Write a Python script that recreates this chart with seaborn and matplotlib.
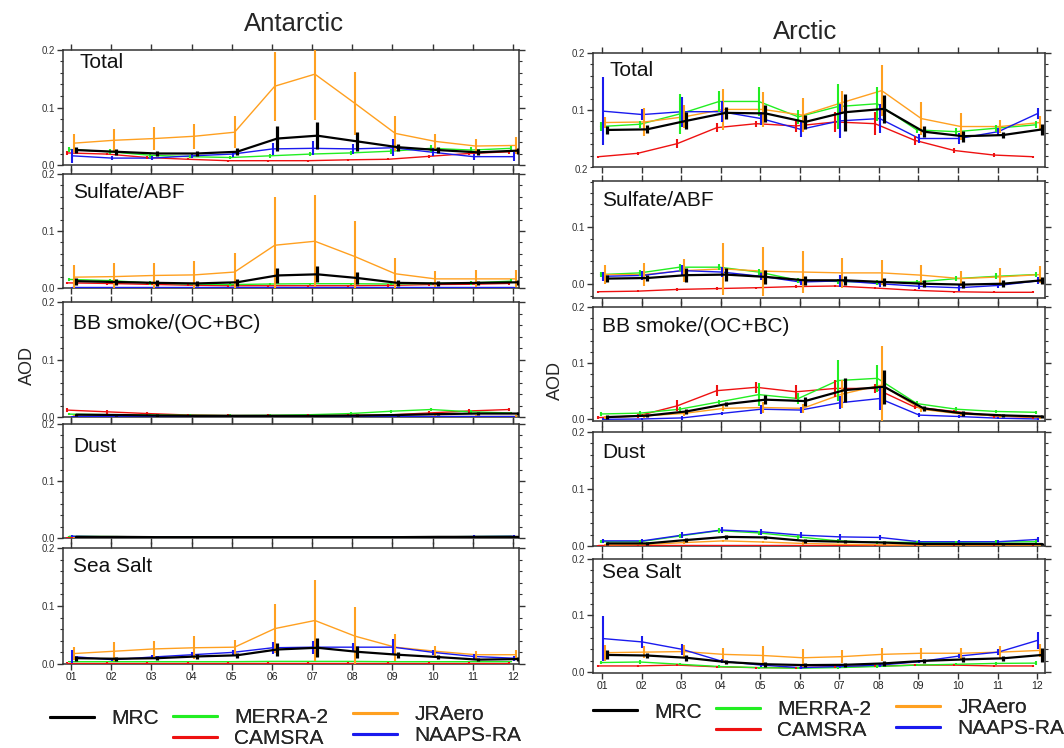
import numpy as np
import pandas as pd
import matplotlib
matplotlib.use("Agg")
import matplotlib.pyplot as plt
from matplotlib.lines import Line2D
from matplotlib import font_manager
import seaborn as sns

# ---------------------------------------------------------------- data
MONTHS = ["01", "02", "03", "04", "05", "06", "07", "08", "09", "10", "11", "12"]
MODELS = ["CAMSRA", "MERRA-2", "JRAero", "NAAPS-RA", "MRC"]
SPECIES = ["Total", "Sulfate/ABF", "BB smoke/(OC+BC)", "Dust", "Sea Salt"]

# Antarctic monthly mean AOD and spread
ANT_TOTAL = {
    "MRC":      [0.026, 0.023, 0.020, 0.020, 0.023, 0.046, 0.051, 0.041, 0.031, 0.026, 0.022, 0.025],
    "MERRA-2":  [0.027, 0.023, 0.017, 0.0145, 0.013, 0.016, 0.019, 0.021, 0.024, 0.029, 0.026, 0.029],
    "CAMSRA":   [0.021, 0.019, 0.013, 0.010, 0.0075, 0.0075, 0.0075, 0.009, 0.010, 0.015, 0.020, 0.023],
    "JRAero":   [0.038, 0.043, 0.046, 0.050, 0.057, 0.137, 0.158, 0.107, 0.055, 0.041, 0.033, 0.034],
    "NAAPS-RA": [0.016, 0.012, 0.012, 0.016, 0.019, 0.028, 0.029, 0.028, 0.030, 0.022, 0.0145, 0.0145],
}
ANT_TOTAL_ERR = {
    "MRC":      [0.005, 0.005, 0.005, 0.005, 0.006, 0.021, 0.023, 0.016, 0.006, 0.005, 0.005, 0.005],
    "MERRA-2":  [0.004, 0.004, 0.004, 0.003, 0.003, 0.004, 0.004, 0.004, 0.004, 0.006, 0.005, 0.004],
    "CAMSRA":   [0.003, 0.002, 0.002, 0.002, 0.002, 0.002, 0.002, 0.002, 0.002, 0.002, 0.003, 0.003],
    "JRAero":   [0.016, 0.020, 0.020, 0.022, 0.028, 0.060, 0.080, 0.055, 0.030, 0.013, 0.012, 0.015],
    "NAAPS-RA": [0.012, 0.004, 0.004, 0.004, 0.005, 0.010, 0.012, 0.008, 0.015, 0.007, 0.005, 0.008],
}

ANT_SULFATE = {
    "MRC":      [0.012, 0.0105, 0.009, 0.008, 0.010, 0.022, 0.024, 0.0175, 0.009, 0.008, 0.009, 0.010],
    "MERRA-2":  [0.015, 0.013, 0.009, 0.007, 0.006, 0.007, 0.0075, 0.0075, 0.007, 0.008, 0.009, 0.012],
    "CAMSRA":   [0.009, 0.008, 0.0065, 0.005, 0.004, 0.004, 0.004, 0.004, 0.0045, 0.006, 0.0065, 0.008],
    "JRAero":   [0.019, 0.020, 0.022, 0.023, 0.028, 0.075, 0.082, 0.055, 0.025, 0.016, 0.016, 0.016],
    "NAAPS-RA": [0.001, 0.001, 0.001, 0.001, 0.001, 0.001, 0.001, 0.001, 0.001, 0.001, 0.001, 0.001],
}
ANT_SULFATE_ERR = {
    "MRC":      [0.006, 0.006, 0.005, 0.005, 0.006, 0.013, 0.014, 0.010, 0.005, 0.004, 0.004, 0.004],
    "MERRA-2":  [0.003, 0.003, 0.003, 0.002, 0.002, 0.002, 0.002, 0.002, 0.002, 0.002, 0.003, 0.003],
    "CAMSRA":   [0.002, 0.002, 0.002, 0.002, 0.002, 0.002, 0.002, 0.002, 0.002, 0.002, 0.002, 0.002],
    "JRAero":   [0.022, 0.024, 0.022, 0.025, 0.033, 0.084, 0.081, 0.063, 0.027, 0.014, 0.015, 0.015],
    "NAAPS-RA": [0.001, 0.001, 0.001, 0.001, 0.001, 0.001, 0.001, 0.001, 0.001, 0.001, 0.001, 0.001],
}

ANT_BB = {
    "MRC":      [0.004, 0.0035, 0.0025, 0.002, 0.002, 0.002, 0.002, 0.0025, 0.0035, 0.005, 0.006, 0.006],
    "MERRA-2":  [0.005, 0.004, 0.0035, 0.003, 0.0025, 0.003, 0.004, 0.006, 0.010, 0.013, 0.009, 0.007],
    "CAMSRA":   [0.012, 0.009, 0.006, 0.0035, 0.0025, 0.0025, 0.0025, 0.003, 0.0035, 0.007, 0.0105, 0.013],
    "JRAero":   [0.002, 0.002, 0.002, 0.002, 0.002, 0.002, 0.002, 0.002, 0.002, 0.002, 0.002, 0.002],
    "NAAPS-RA": [0.001, 0.001, 0.001, 0.001, 0.001, 0.001, 0.001, 0.001, 0.001, 0.001, 0.001, 0.001],
}
ANT_BB_ERR = {
    "MRC":      [0.002, 0.002, 0.002, 0.002, 0.002, 0.002, 0.002, 0.002, 0.002, 0.002, 0.002, 0.002],
    "MERRA-2":  [0.002, 0.002, 0.002, 0.002, 0.002, 0.002, 0.002, 0.002, 0.003, 0.003, 0.003, 0.002],
    "CAMSRA":   [0.004, 0.003, 0.002, 0.002, 0.002, 0.002, 0.002, 0.002, 0.002, 0.003, 0.003, 0.003],
    "JRAero":   [0.001, 0.001, 0.001, 0.001, 0.001, 0.001, 0.001, 0.001, 0.001, 0.001, 0.001, 0.001],
    "NAAPS-RA": [0.001, 0.001, 0.001, 0.001, 0.001, 0.001, 0.001, 0.001, 0.001, 0.001, 0.001, 0.001],
}

ANT_DUST = {
    "MRC":      [0.002, 0.002, 0.0015, 0.0015, 0.0015, 0.0015, 0.0015, 0.0015, 0.0015, 0.002, 0.002, 0.002],
    "MERRA-2":  [0.003, 0.0025, 0.002, 0.002, 0.0015, 0.0015, 0.0015, 0.0015, 0.002, 0.002, 0.0025, 0.003],
    "CAMSRA":   [0.001, 0.001, 0.001, 0.001, 0.001, 0.001, 0.001, 0.001, 0.001, 0.001, 0.001, 0.001],
    "JRAero":   [0.001, 0.001, 0.001, 0.001, 0.001, 0.001, 0.001, 0.001, 0.001, 0.001, 0.001, 0.001],
    "NAAPS-RA": [0.003, 0.002, 0.0015, 0.001, 0.001, 0.001, 0.001, 0.001, 0.0015, 0.002, 0.0025, 0.003],
}
ANT_DUST_ERR = {
    "MRC":      [0.002, 0.002, 0.001, 0.001, 0.001, 0.001, 0.001, 0.001, 0.001, 0.001, 0.002, 0.002],
    "MERRA-2":  [0.001, 0.001, 0.001, 0.001, 0.001, 0.001, 0.001, 0.001, 0.001, 0.001, 0.001, 0.001],
    "CAMSRA":   [0.001, 0.001, 0.001, 0.001, 0.001, 0.001, 0.001, 0.001, 0.001, 0.001, 0.001, 0.001],
    "JRAero":   [0.001, 0.001, 0.001, 0.001, 0.001, 0.001, 0.001, 0.001, 0.001, 0.001, 0.001, 0.001],
    "NAAPS-RA": [0.002, 0.002, 0.002, 0.002, 0.002, 0.002, 0.002, 0.002, 0.002, 0.002, 0.002, 0.002],
}

ANT_SEASALT = {
    "MRC":      [0.010, 0.009, 0.010, 0.013, 0.015, 0.025, 0.028, 0.021, 0.016, 0.012, 0.0075, 0.0085],
    "MERRA-2":  [0.004, 0.004, 0.004, 0.004, 0.004, 0.0045, 0.0045, 0.0045, 0.004, 0.004, 0.004, 0.004],
    "CAMSRA":   [0.002, 0.002, 0.002, 0.002, 0.002, 0.002, 0.002, 0.002, 0.002, 0.002, 0.002, 0.002],
    "JRAero":   [0.018, 0.022, 0.026, 0.028, 0.029, 0.061, 0.075, 0.048, 0.029, 0.022, 0.016, 0.016],
    "NAAPS-RA": [0.013, 0.0075, 0.012, 0.016, 0.020, 0.028, 0.029, 0.029, 0.029, 0.020, 0.013, 0.010],
}
ANT_SEASALT_ERR = {
    "MRC":      [0.004, 0.003, 0.003, 0.004, 0.004, 0.012, 0.016, 0.010, 0.005, 0.004, 0.003, 0.004],
    "MERRA-2":  [0.001, 0.001, 0.001, 0.001, 0.001, 0.001, 0.001, 0.001, 0.001, 0.001, 0.001, 0.001],
    "CAMSRA":   [0.001, 0.001, 0.001, 0.001, 0.001, 0.001, 0.001, 0.001, 0.001, 0.001, 0.001, 0.001],
    "JRAero":   [0.011, 0.016, 0.014, 0.020, 0.012, 0.042, 0.070, 0.051, 0.023, 0.009, 0.007, 0.009],
    "NAAPS-RA": [0.012, 0.003, 0.004, 0.004, 0.005, 0.010, 0.011, 0.008, 0.014, 0.005, 0.004, 0.004],
}

# Arctic monthly mean AOD and spread
ARC_TOTAL = {
    "MRC":      [0.065, 0.066, 0.081, 0.095, 0.094, 0.079, 0.096, 0.102, 0.062, 0.054, 0.056, 0.066],
    "MERRA-2":  [0.071, 0.075, 0.093, 0.115, 0.115, 0.088, 0.106, 0.111, 0.065, 0.062, 0.068, 0.074],
    "CAMSRA":   [0.018, 0.024, 0.041, 0.069, 0.076, 0.072, 0.079, 0.076, 0.047, 0.029, 0.021, 0.018],
    "JRAero":   [0.078, 0.079, 0.088, 0.101, 0.101, 0.091, 0.113, 0.134, 0.085, 0.071, 0.071, 0.078],
    "NAAPS-RA": [0.098, 0.092, 0.097, 0.097, 0.085, 0.066, 0.081, 0.085, 0.050, 0.050, 0.062, 0.094],
}
ARC_TOTAL_ERR = {
    "MRC":      [0.007, 0.007, 0.015, 0.010, 0.015, 0.012, 0.032, 0.024, 0.010, 0.010, 0.005, 0.010],
    "MERRA-2":  [0.008, 0.006, 0.035, 0.018, 0.025, 0.012, 0.040, 0.030, 0.006, 0.006, 0.006, 0.006],
    "CAMSRA":   [0.002, 0.003, 0.008, 0.008, 0.005, 0.010, 0.018, 0.020, 0.008, 0.004, 0.003, 0.002],
    "JRAero":   [0.010, 0.025, 0.020, 0.036, 0.031, 0.030, 0.020, 0.045, 0.029, 0.023, 0.012, 0.012],
    "NAAPS-RA": [0.060, 0.010, 0.026, 0.018, 0.012, 0.014, 0.030, 0.025, 0.008, 0.010, 0.006, 0.010],
}

ARC_SULFATE = {
    "MRC":      [0.010, 0.011, 0.016, 0.017, 0.013, 0.007, 0.007, 0.004, 0.001, -0.0005, 0.001, 0.007],
    "MERRA-2":  [0.017, 0.020, 0.030, 0.030, 0.0215, 0.007, 0.005, 0.0035, 0.004, 0.010, 0.014, 0.017],
    "CAMSRA":   [-0.013, -0.012, -0.009, -0.0075, -0.006, -0.004, -0.003, -0.0065, -0.0105, -0.013, -0.014, -0.014],
    "JRAero":   [0.017, 0.017, 0.024, 0.027, 0.023, 0.0215, 0.020, 0.020, 0.016, 0.010, 0.013, 0.017],
    "NAAPS-RA": [0.014, 0.0155, 0.024, 0.0215, 0.014, 0.004, 0.006, 0.001, -0.0035, -0.006, -0.002, 0.006],
}
ARC_SULFATE_ERR = {
    "MRC":      [0.006, 0.006, 0.012, 0.012, 0.012, 0.008, 0.008, 0.007, 0.006, 0.006, 0.006, 0.006],
    "MERRA-2":  [0.004, 0.005, 0.006, 0.005, 0.005, 0.004, 0.004, 0.004, 0.004, 0.004, 0.005, 0.005],
    "CAMSRA":   [0.002, 0.002, 0.002, 0.002, 0.002, 0.002, 0.002, 0.002, 0.002, 0.002, 0.002, 0.002],
    "JRAero":   [0.016, 0.020, 0.020, 0.045, 0.043, 0.036, 0.026, 0.022, 0.018, 0.013, 0.015, 0.015],
    "NAAPS-RA": [0.008, 0.008, 0.010, 0.008, 0.006, 0.006, 0.010, 0.005, 0.005, 0.005, 0.005, 0.006],
}

ARC_BB = {
    "MRC":      [0.004, 0.0065, 0.014, 0.027, 0.035, 0.0325, 0.052, 0.058, 0.0195, 0.0105, 0.007, 0.005],
    "MERRA-2":  [0.0095, 0.011, 0.018, 0.031, 0.044, 0.037, 0.069, 0.073, 0.028, 0.018, 0.014, 0.0125],
    "CAMSRA":   [0.003, 0.006, 0.024, 0.051, 0.057, 0.049, 0.055, 0.055, 0.022, 0.014, 0.006, 0.0035],
    "JRAero":   [0.0035, 0.006, 0.0105, 0.0195, 0.021, 0.0195, 0.045, 0.061, 0.018, 0.0095, 0.006, 0.0035],
    "NAAPS-RA": [0.0, 0.0006, 0.0025, 0.0105, 0.018, 0.0165, 0.0295, 0.037, 0.0075, 0.005, 0.002, 0.0006],
}
ARC_BB_ERR = {
    "MRC":      [0.003, 0.003, 0.004, 0.004, 0.008, 0.008, 0.022, 0.030, 0.005, 0.004, 0.003, 0.003],
    "MERRA-2":  [0.003, 0.003, 0.004, 0.004, 0.020, 0.010, 0.036, 0.024, 0.005, 0.004, 0.003, 0.003],
    "CAMSRA":   [0.003, 0.003, 0.010, 0.010, 0.010, 0.012, 0.015, 0.008, 0.004, 0.003, 0.003, 0.003],
    "JRAero":   [0.003, 0.003, 0.004, 0.004, 0.010, 0.008, 0.025, 0.070, 0.005, 0.004, 0.003, 0.003],
    "NAAPS-RA": [0.002, 0.002, 0.003, 0.003, 0.008, 0.006, 0.012, 0.020, 0.004, 0.003, 0.002, 0.002],
}

ARC_DUST = {
    "MRC":      [0.0045, 0.0045, 0.0105, 0.016, 0.015, 0.009, 0.0075, 0.006, 0.0035, 0.0035, 0.0035, 0.0035],
    "MERRA-2":  [0.0075, 0.0075, 0.0175, 0.027, 0.023, 0.016, 0.009, 0.0065, 0.0065, 0.0065, 0.007, 0.0075],
    "CAMSRA":   [0.001, 0.001, 0.001, 0.001, 0.001, 0.001, 0.001, 0.001, 0.001, 0.001, 0.001, 0.001],
    "JRAero":   [0.002, 0.0025, 0.006, 0.009, 0.007, 0.0045, 0.003, 0.002, 0.0015, 0.0015, 0.0015, 0.0015],
    "NAAPS-RA": [0.009, 0.009, 0.019, 0.028, 0.025, 0.019, 0.016, 0.015, 0.0075, 0.0075, 0.0075, 0.0115],
}
ARC_DUST_ERR = {
    "MRC":      [0.002, 0.002, 0.003, 0.003, 0.003, 0.003, 0.003, 0.002, 0.002, 0.002, 0.002, 0.002],
    "MERRA-2":  [0.003, 0.003, 0.004, 0.004, 0.004, 0.004, 0.003, 0.003, 0.003, 0.003, 0.003, 0.003],
    "CAMSRA":   [0.001, 0.001, 0.001, 0.001, 0.001, 0.001, 0.001, 0.001, 0.001, 0.001, 0.001, 0.001],
    "JRAero":   [0.001, 0.001, 0.002, 0.002, 0.002, 0.002, 0.001, 0.001, 0.001, 0.001, 0.001, 0.001],
    "NAAPS-RA": [0.003, 0.003, 0.005, 0.006, 0.005, 0.005, 0.005, 0.004, 0.003, 0.003, 0.003, 0.004],
}

ARC_SEASALT = {
    "MRC":      [0.030, 0.029, 0.025, 0.0175, 0.0135, 0.012, 0.0125, 0.015, 0.0195, 0.022, 0.024, 0.030],
    "MERRA-2":  [0.0165, 0.0175, 0.0135, 0.0095, 0.0075, 0.0065, 0.0075, 0.0095, 0.012, 0.0135, 0.015, 0.0155],
    "CAMSRA":   [0.0105, 0.0105, 0.012, 0.009, 0.0075, 0.0075, 0.009, 0.010, 0.012, 0.012, 0.0105, 0.0105],
    "JRAero":   [0.034, 0.035, 0.036, 0.031, 0.029, 0.025, 0.027, 0.031, 0.033, 0.033, 0.035, 0.038],
    "NAAPS-RA": [0.059, 0.053, 0.040, 0.019, 0.012, 0.0075, 0.0095, 0.012, 0.018, 0.028, 0.035, 0.056],
}
ARC_SEASALT_ERR = {
    "MRC":      [0.008, 0.005, 0.005, 0.004, 0.004, 0.004, 0.004, 0.004, 0.004, 0.004, 0.005, 0.012],
    "MERRA-2":  [0.003, 0.003, 0.002, 0.002, 0.002, 0.002, 0.002, 0.002, 0.002, 0.002, 0.002, 0.003],
    "CAMSRA":   [0.002, 0.002, 0.002, 0.002, 0.002, 0.002, 0.002, 0.002, 0.002, 0.002, 0.002, 0.002],
    "JRAero":   [0.014, 0.010, 0.012, 0.012, 0.016, 0.016, 0.012, 0.012, 0.010, 0.010, 0.010, 0.012],
    "NAAPS-RA": [0.040, 0.010, 0.010, 0.004, 0.003, 0.003, 0.003, 0.003, 0.003, 0.004, 0.005, 0.015],
}

ANT_PANELS = [(ANT_TOTAL, ANT_TOTAL_ERR), (ANT_SULFATE, ANT_SULFATE_ERR), (ANT_BB, ANT_BB_ERR),
              (ANT_DUST, ANT_DUST_ERR), (ANT_SEASALT, ANT_SEASALT_ERR)]
ARC_PANELS = [(ARC_TOTAL, ARC_TOTAL_ERR), (ARC_SULFATE, ARC_SULFATE_ERR), (ARC_BB, ARC_BB_ERR),
              (ARC_DUST, ARC_DUST_ERR), (ARC_SEASALT, ARC_SEASALT_ERR)]

# ---------------------------------------------------------------- style
COLORS = {"MRC": "#000000", "MERRA-2": "#22ee22", "CAMSRA": "#ee1111",
          "JRAero": "#ffa020", "NAAPS-RA": "#1a1aee"}
SHIFT = {"CAMSRA": -0.10, "MERRA-2": -0.04, "NAAPS-RA": 0.02, "JRAero": 0.07, "MRC": 0.13}
LINE_W = {"MRC": 1.6, "MERRA-2": 1.0, "CAMSRA": 1.0, "JRAero": 1.0, "NAAPS-RA": 1.0}
BAR_W = {"MRC": 2.3, "MERRA-2": 1.5, "CAMSRA": 1.5, "JRAero": 1.5, "NAAPS-RA": 1.5}

sns.set_theme(style="ticks")


def first_font(names):
    for n in names:
        try:
            font_manager.findfont(n, fallback_to_default=False)
            return n
        except Exception:
            continue
    return "DejaVu Sans"


BASE_FONT = first_font(["Liberation Sans", "Arial", "DejaVu Sans"])
plt.rcParams["font.family"] = [BASE_FONT, "DejaVu Sans"]

W, H = 1064, 748
fig = plt.figure(figsize=(W / 100, H / 100), dpi=100)


def px_axes(x0, x1, y0, y1):
    return fig.add_axes([x0 / W, 1 - y1 / H, (x1 - x0) / W, (y1 - y0) / H])


ANT_X = (63, 519)
ARC_X = (593, 1045)
ANT_ROWS = [(50, 165), (174, 288), (302, 417), (424, 538), (548, 664)]
ARC_ROWS = [(53, 167), (181, 298), (307, 421), (432, 546), (559, 673)]
ARC_YLIMS = [(0.0, 0.2), (-0.024, 0.181), (-0.003, 0.2), (0.0, 0.2), (-0.002, 0.2)]
ARC_YTICKS = [[0.1, 0.2], [0.0, 0.1], [0.0, 0.1, 0.2], [0.0, 0.1, 0.2], [0.0, 0.1, 0.2]]
# panel-label placement (px from left frame, px from top frame to text centre)
ANT_LABEL_POS = [(17, 12), (10, 19), (10, 21), (10, 22), (10, 18)]
ARC_LABEL_POS = [(17, 18), (9, 19), (9, 20), (9, 20), (9, 13)]


def draw_panel(ax, means, errs, label, xlim, ylim, yticks, last, label_pos, size_px):
    x = np.arange(1, 13)
    for m in MODELS:
        xs = x + SHIFT[m]
        df = pd.DataFrame({"month": xs, "aod": means[m]})
        sns.lineplot(data=df, x="month", y="aod", color=COLORS[m], lw=LINE_W[m],
                     ax=ax, legend=False, zorder=3 if m != "MRC" else 5)
        ax.errorbar(xs, means[m], yerr=errs[m], fmt="none", ecolor=COLORS[m],
                    elinewidth=BAR_W[m], capsize=0, zorder=4 if m != "MRC" else 6)
    ax.set_xticks(x)
    ax.set_xticklabels(MONTHS if last else [])
    ax.set_yticks(yticks)
    ax.set_yticklabels([f"{v:.1f}" for v in yticks])
    ax.yaxis.set_minor_locator(matplotlib.ticker.MultipleLocator(0.02))
    # limits last, so tick setting cannot widen them
    ax.set_xlim(*xlim)
    ax.set_ylim(*ylim)
    ax.set_xlabel("")
    ax.set_ylabel("")
    ax.tick_params(axis="x", which="major", top=True, bottom=True, direction="out",
                   length=4, width=1.0, color="#333333", labelsize=7.5,
                   labelcolor="#222222", pad=2)
    ax.tick_params(axis="y", which="major", left=True, right=True, direction="out",
                   length=4, width=1.0, color="#333333", labelsize=7,
                   labelcolor="#333333", pad=2)
    ax.tick_params(axis="y", which="minor", left=True, right=True, direction="out",
                   length=2.5, width=0.8, color="#333333")
    for s in ax.spines.values():
        s.set_visible(True)
        s.set_color("#333333")
        s.set_linewidth(1.1)
    dx, dy = label_pos
    w, h = size_px
    ax.text(dx / w, 1 - dy / h, label, transform=ax.transAxes, ha="left", va="center",
            fontsize=15, color="#111111")


# Antarctic column
ant_axes = []
for i, ((mean, err), (t, b)) in enumerate(zip(ANT_PANELS, ANT_ROWS)):
    ax = px_axes(ANT_X[0], ANT_X[1], t, b)
    draw_panel(ax, mean, err, SPECIES[i], (0.80, 12.15), (0.0, 0.2), [0.0, 0.1, 0.2],
               i == 4, ANT_LABEL_POS[i], (ANT_X[1] - ANT_X[0], b - t))
    ant_axes.append(ax)

# Arctic column
arc_axes = []
for i, ((mean, err), (t, b)) in enumerate(zip(ARC_PANELS, ARC_ROWS)):
    ax = px_axes(ARC_X[0], ARC_X[1], t, b)
    draw_panel(ax, mean, err, SPECIES[i], (0.77, 12.2), ARC_YLIMS[i], ARC_YTICKS[i],
               i == 4, ARC_LABEL_POS[i], (ARC_X[1] - ARC_X[0], b - t))
    arc_axes.append(ax)

# the sulfate panel's 0.2 label sits above its frame
arc_axes[1].text(-0.012, 0.2, "0.2", transform=arc_axes[1].get_yaxis_transform(),
                 ha="right", va="center", fontsize=7, color="#333333", clip_on=False)

fig.text(294 / W, 1 - 24 / H, "Antarctic", ha="center", va="center", fontsize=18.5)
fig.text(805 / W, 1 - 32 / H, "Arctic", ha="center", va="center", fontsize=18.5)
fig.text(27 / W, 1 - 365 / H, "AOD", ha="center", va="center", rotation=90, fontsize=13)
fig.text(555 / W, 1 - 380 / H, "AOD", ha="center", va="center", rotation=90, fontsize=13)


# Legends: MRC alone, then two stacked columns of the reanalyses
def handle(m):
    return Line2D([], [], color=COLORS[m], lw=2.2)


leg_kw = dict(frameon=False, handlelength=2.1, handletextpad=0.85, fontsize=15,
              borderaxespad=0, borderpad=0, labelspacing=0.1, loc="center left")
LEGEND_SLOTS = [
    # (x of handle, y centre) for MRC, column 2, column 3
    [(50, 719), (173, 728), (353, 725)],
    [(593, 712), (716, 720), (896, 718)],
]
for slots in LEGEND_SLOTS:
    groups = [["MRC"], ["MERRA-2", "CAMSRA"], ["JRAero", "NAAPS-RA"]]
    for (x, y), grp in zip(slots, groups):
        leg = fig.legend([handle(m) for m in grp], grp,
                         bbox_to_anchor=(x / W, 1 - y / H), **leg_kw)
        fig.add_artist(leg)

fig.savefig("out.png", dpi=100, facecolor="white")
